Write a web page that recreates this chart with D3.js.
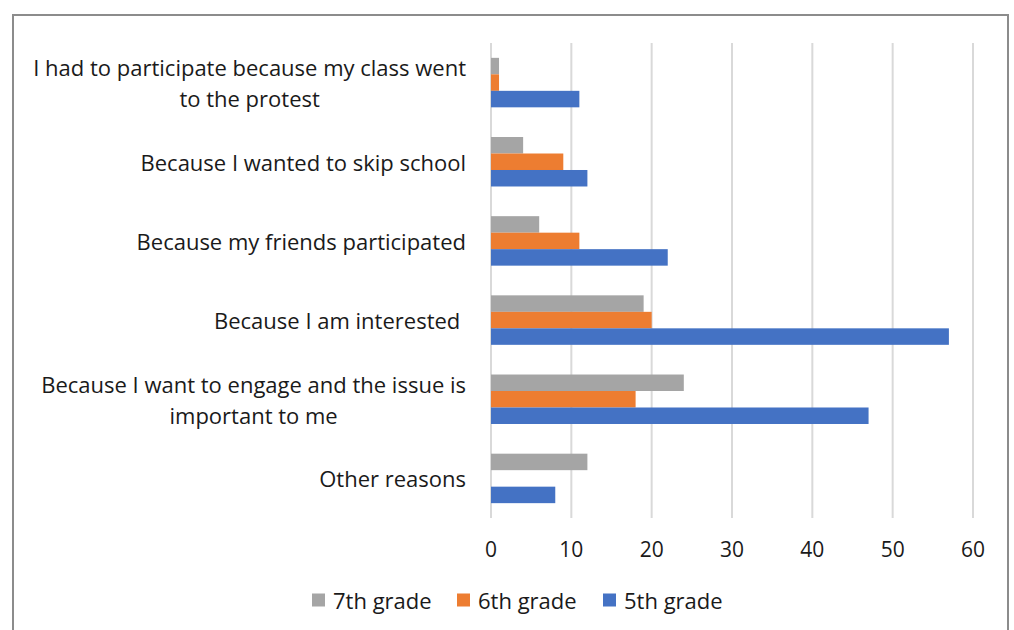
<!DOCTYPE html>
<html>
<head>
<meta charset="utf-8">
<script src="https://cdn.jsdelivr.net/npm/d3@7"></script>
<style>
  body { margin: 0; background: #fff; }
  text { font-family: "Open Sans", "Noto Sans", sans-serif; fill: #1a1a1a; white-space: pre; }
</style>
</head>
<body>
<script>
// reasons, top to bottom
const categories = [
  ["I had to participate because my class went", "to the protest"],
  ["Because I wanted to skip school"],
  ["Because my friends participated"],
  ["Because I am interested "],
  ["Because I want to engage and the issue is", "important to me"],
  ["Other reasons"],
];
const series = ["7th grade", "6th grade", "5th grade"];
const colors = ["#A5A5A5", "#ED7D31", "#4472C4"];
const grade7 = [1, 4, 6, 19, 24, 12];
const grade6 = [1, 9, 11, 20, 18, 0];
const grade5 = [11, 12, 22, 57, 47, 8];
const ticks = [0, 10, 20, 30, 40, 50, 60];

const values = [grade7, grade6, grade5];
const W = 1014, H = 630;

const svg = d3.select("body").append("svg")
  .attr("width", W)
  .attr("height", H);

// chart frame
svg.append("rect")
  .attr("x", 13).attr("y", 15)
  .attr("width", 995).attr("height", 630)
  .attr("fill", "none")
  .attr("stroke", "#8c8c8c")
  .attr("stroke-width", 2);

const x = d3.scaleLinear().domain([0, 60]).range([491, 973]);
const y0 = d3.scaleBand().domain(d3.range(categories.length)).range([43, 518]);
const y1 = d3.scaleBand().domain(d3.range(series.length))
  .range([0, y0.bandwidth()]).paddingOuter(0.9);

// gridlines
svg.append("g").selectAll("line").data(ticks).join("line")
  .attr("x1", d => x(d)).attr("x2", d => x(d))
  .attr("y1", 43).attr("y2", 518)
  .attr("stroke", "#d9d9d9")
  .attr("stroke-width", 2);

// tick labels
svg.append("g").selectAll("text").data(ticks).join("text")
  .attr("x", d => x(d)).attr("y", 549)
  .attr("text-anchor", "middle")
  .attr("dominant-baseline", "central")
  .attr("font-size", 21)
  .text(d => d);

// bars
const groups = svg.append("g").selectAll("g").data(categories).join("g")
  .attr("transform", (d, i) => `translate(0,${y0(i)})`);

groups.selectAll("rect")
  .data((d, i) => values.map((v, s) => ({ s, v: v[i] })))
  .join("rect")
  .attr("x", x(0))
  .attr("y", d => y1(d.s))
  .attr("width", d => x(d.v) - x(0))
  .attr("height", y1.bandwidth())
  .attr("fill", d => colors[d.s]);

// category labels
const labelRight = 466, lineH = 31;
categories.forEach((lines, i) => {
  const cy = y0(i) + y0.bandwidth() / 2;
  const g = svg.append("g");
  const t = g.selectAll("text").data(lines).join("text")
    .attr("y", (d, k) => cy + (k - (lines.length - 1) / 2) * lineH)
    .attr("dominant-baseline", "central")
    .attr("text-anchor", "middle")
    .attr("font-size", 22)
    .text(d => d);
  const maxW = d3.max(t.nodes(), n => n.getComputedTextLength());
  t.attr("x", labelRight - maxW / 2);
});

// legend
const legendX = [312, 457, 603];
const legend = svg.append("g").selectAll("g").data(series).join("g")
  .attr("transform", (d, i) => `translate(${legendX[i]},600)`);
legend.append("rect")
  .attr("x", 0).attr("y", -6.5)
  .attr("width", 13).attr("height", 13)
  .attr("fill", (d, i) => colors[i]);
legend.append("text")
  .attr("x", 21).attr("y", 0)
  .attr("dominant-baseline", "central")
  .attr("font-size", 22)
  .text(d => d);
</script>
</body>
</html>
